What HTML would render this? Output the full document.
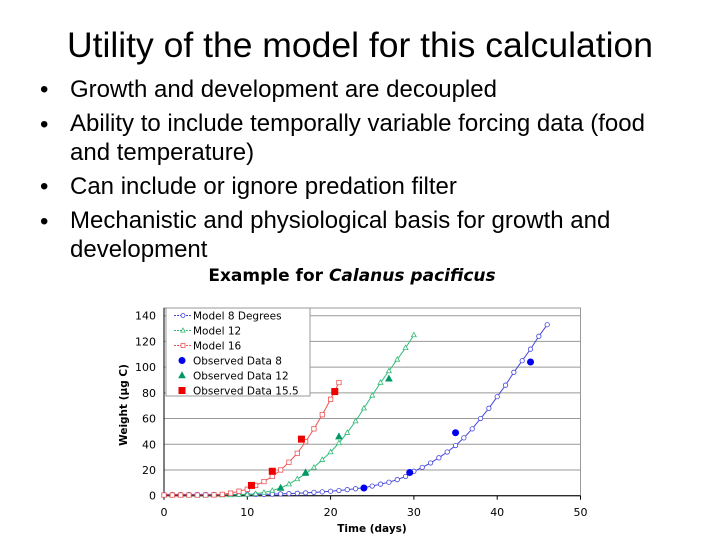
<!DOCTYPE html>
<html><head><meta charset="utf-8"><style>
body{margin:0;width:720px;height:540px;background:#fff;overflow:hidden;font-family:"Liberation Sans",sans-serif}
.t{position:absolute;white-space:nowrap;color:#000}
</style></head><body>
<div class="t" style="left:0;width:720px;text-align:center;top:25px;font-size:35.5px">Utility of the model for this calculation</div>
<div>
<div class="t" style="left:40px;top:76px;font-size:24px">•</div><div class="t" style="left:70px;top:76px;font-size:24px">Growth and development are decoupled</div>
<div class="t" style="left:40px;top:111px;font-size:24px">•</div><div class="t" style="left:70px;top:109px;font-size:24px;line-height:29px">Ability to include temporally variable forcing data (food<br>and temperature)</div>
<div class="t" style="left:40px;top:173px;font-size:24px">•</div><div class="t" style="left:70px;top:173px;font-size:24px">Can include or ignore predation filter</div>
<div class="t" style="left:40px;top:208px;font-size:24px">•</div><div class="t" style="left:70px;top:206px;font-size:24px;line-height:29px">Mechanistic and physiological basis for growth and<br>development</div>
</div>
<svg id="chart" width="720" height="540" style="position:absolute;left:0;top:0" font-family="DejaVu Sans, sans-serif"></svg>
<script>
const days8=[0,1,2,3,4,5,6,7,8,9,10,11,12,13,14,15,16,17,18,19,20,21,22,23,24,25,26,27,28,29,30,31,32,33,34,35,36,37,38,39,40,41,42,43,44,45,46];
const model8=[1,1,1,1,1,1,1,1,1,1,1,1,1,1.2,1.4,1.6,1.9,2.2,2.6,3,3.5,4,4.7,5.4,6.3,7.5,9,10.5,12.5,15,19,22,25.5,29.5,34,39,45,52,60,68,77,86,96,105,114,124,133];
const days12=[0,1,2,3,4,5,6,7,8,9,10,11,12,13,14,15,16,17,18,19,20,21,22,23,24,25,26,27,28,29,30];
const model12=[0.5,0.5,0.5,0.5,0.5,0.5,0.5,0.5,0.6,0.8,1,1.5,2.5,4,6,9,13,17,22,28,34,41,49,58,68,78,88,97,106,115,125];
const days16=[0,1,2,3,4,5,6,7,8,9,10,11,12,13,14,15,16,17,18,19,20,21];
const model16=[0.5,0.5,0.5,0.5,0.5,0.5,0.6,1,2,3.5,5,8,11,15,20,26,33,42,52,63,75,88];
const obs8X=[24,29.5,35,44], obs8Y=[6,18,49,104];
const obs12X=[14,17,21,27], obs12Y=[6,18,46,91];
const obs155X=[10.5,13,16.5,20.5], obs155Y=[8,19,44,81];
const xTicks=[0,10,20,30,40,50];
const yTicks=[0,20,40,60,80,100,120,140];
const NS='http://www.w3.org/2000/svg';
const svg=document.getElementById('chart');
const X0=164,X1=580.5,Y0=495.7,Y1=315.7;
const xs=v=>X0+(X1-X0)*v/50, ys=v=>Y0-(Y0-Y1)*v/140;
function mk(tag,a,parent){const e=document.createElementNS(NS,tag);for(const k in a)e.setAttribute(k,a[k]);(parent||svg).appendChild(e);return e;}
const plot=mk('rect',{x:X0,y:308,width:X1-X0,height:Y0-308,fill:'#fff',stroke:'#999','stroke-width':1});


yTicks.forEach(v=>{
  const g=mk('line',{x1:X0,x2:X1,y1:ys(v),y2:ys(v),stroke:'#999','stroke-width':1});
  
  
  const t=mk('text',{x:156,y:ys(v)+4,'text-anchor':'end','font-size':11});t.textContent=v;
  
  
});
xTicks.forEach(v=>{
  const t=mk('text',{x:xs(v),y:516,'text-anchor':'middle','font-size':11});t.textContent=v;
  
  
  const l=mk('line',{x1:xs(v),x2:xs(v),y1:Y0,y2:Y0+4,stroke:'#000'});
  
  
});
const ax=mk('line',{x1:X0,x2:X0,y1:308,y2:Y0,stroke:'#000'});


const axx=mk('line',{x1:X0,x2:X1,y1:Y0,y2:Y0,stroke:'#000'});


const xt=mk('text',{x:372,y:532,'text-anchor':'middle','font-size':10.5,'font-weight':'bold'});xt.textContent='Time (days)';


const yt=mk('text',{x:0,y:0,'text-anchor':'middle','font-size':10.5,'font-weight':'bold',transform:'translate(127,405) rotate(-90)'});yt.textContent='Weight (µg C)';


function model(xa,ya,col,shape,name){
  const p=mk('polyline',{points:xa.map((d,i)=>xs(d)+','+ys(ya[i])).join(' '),fill:'none',stroke:col,'stroke-width':1});
  
  
  xa.forEach((d,i)=>{const m=marker(xs(d),ys(ya[i]),shape,col,false,2.2);
    
    });
}
function marker(cx,cy,shape,col,fill,r){
  const a={fill:fill?col:'#fff',stroke:col,'stroke-width':fill?0:0.8};
  if(shape==='c')return mk('circle',Object.assign({cx,cy,r},a));
  if(shape==='t')return mk('polygon',Object.assign({points:`${cx},${cy-r*1.2} ${cx-r*1.1},${cy+r*0.8} ${cx+r*1.1},${cy+r*0.8}`},a));
  return mk('rect',Object.assign({x:cx-r,y:cy-r,width:2*r,height:2*r},a));
}
model(days8,model8,'#4444dd','c','model-8');
model(days12,model12,'#33bb77','t','model-12');
model(days16,model16,'#ee5555','s','model-16');
function obs(xa,ya,col,shape,name){xa.forEach((d,i)=>{const m=marker(xs(d),ys(ya[i]),shape,col,true,3.5);
  
  });}
obs(obs8X,obs8Y,'#0000ee','c','observed-8-point');
obs(obs12X,obs12Y,'#009966','t','observed-12-point');
obs(obs155X,obs155Y,'#ee0000','s','observed-15-5-point');
const lg=mk('g',{});


mk('rect',{x:166,y:308,width:144,height:88,fill:'#fff',stroke:'#999'},lg);
const entries=[['Model 8 Degrees','#4444dd','c',0],['Model 12','#33bb77','t',0],['Model 16','#ee5555','s',0],['Observed Data 8','#0000ee','c',1],['Observed Data 12','#009966','t',1],['Observed Data 15.5','#ee0000','s',1]];
entries.forEach((e,i)=>{const y=315.5+i*15;
  const g=mk('g',{},lg);
  
  
  if(!e[3]){mk('line',{x1:174,x2:192,y1:y,y2:y,stroke:e[1],'stroke-dasharray':'2,1'},g);const m=marker(183,y,e[2],e[1],false,2);g.appendChild(m);}
  else{const m=marker(182,y,e[2],e[1],true,3.5);g.appendChild(m);}
  const t=mk('text',{x:193,y:y+4,'font-size':10.5},g);t.textContent=e[0];});
const ct=mk('text',{x:352,y:281,'text-anchor':'middle','font-size':17,'font-weight':'bold'});
ct.innerHTML='Example for  <tspan font-style="italic">Calanus pacificus</tspan>';


</script>
</body></html>
